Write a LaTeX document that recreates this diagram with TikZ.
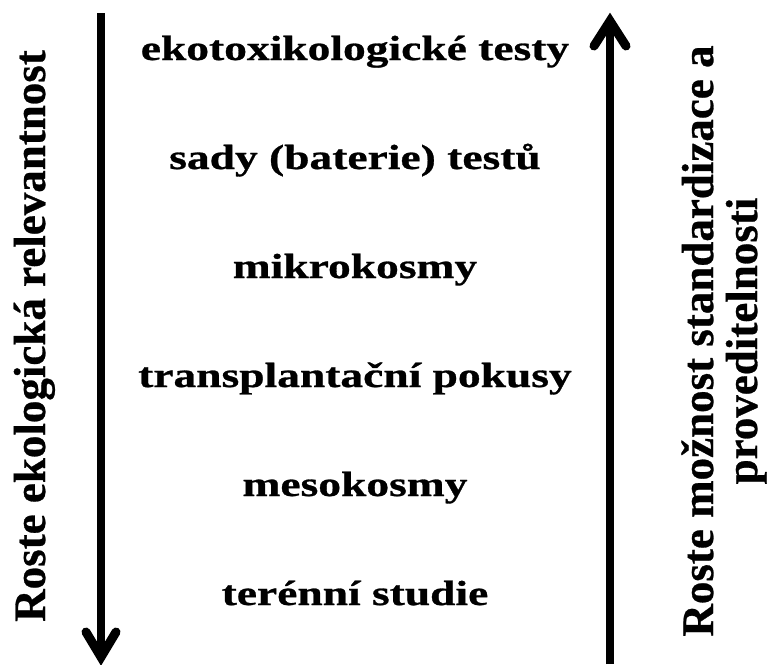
\documentclass[tikz,border=0pt]{standalone}
\usepackage{fontspec}
\setmainfont{Liberation Serif}
\newfontfamily\widefont[FakeStretch=1.30, BoldFeatures={FakeBold=0.8}]{Liberation Serif}
\newfontfamily\sidefont[BoldFeatures={FakeBold=0.6}]{Liberation Serif}
\begin{document}
\begin{tikzpicture}[x=1pt,y=-1pt,
  lbl/.style={font=\widefont\fontsize{35}{40}\selectfont\bfseries, inner sep=0pt, anchor=base},
  side/.style={font=\sidefont\fontsize{45}{44}\selectfont\bfseries, inner sep=0pt, rotate=90, align=center},
  shaft/.style={line width=8pt},
  head/.style={line width=9pt, line cap=round, line join=miter}]
\useasboundingbox (0,0) rectangle (776,664);
\fill[white] (0,0) rectangle (776,664);
\node[lbl] (t1) at (355,60) {ekotoxikologické testy};
\node[lbl] (t2) at (355,169) {sady (baterie) testů};
\node[lbl] (t3) at (355,278) {mikrokosmy};
\node[lbl] (t4) at (355,387) {transplantační pokusy};
\node[lbl] (t5) at (355,496) {mesokosmy};
\node[lbl] (t6) at (355,605) {terénní studie};
\node[side, anchor=base] (l) at (45,336) {Roste ekologická relevantnost};
\node[side] (r) at (724,341) {Roste možnost standardizace a\\proveditelnosti};
\coordinate (la) at (101,13);
\coordinate (lb) at (101,656);
\coordinate (ra) at (610,664);
\coordinate (rb) at (610,20);
\draw[shaft] (la) -- (lb);
\draw[head] (86,632) -- (101,657) -- (116,632);
\draw[shaft] (ra) -- (rb);
\draw[head] (594,46) -- (610,21) -- (626,46);
\end{tikzpicture}
\end{document}
